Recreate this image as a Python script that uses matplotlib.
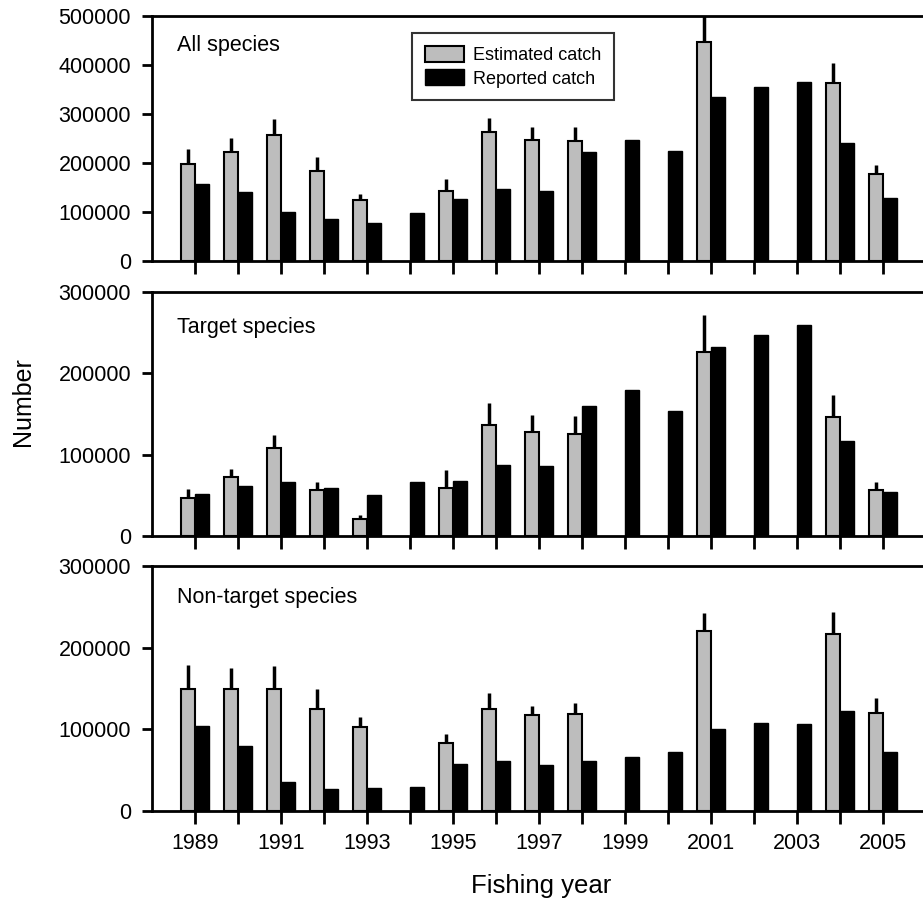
import numpy as np
import matplotlib
matplotlib.use("Agg")
import matplotlib.pyplot as plt

plt.rcParams['font.family'] = ['Liberation Sans', 'DejaVu Sans']

years = list(range(1989, 2006))
nan = np.nan

# All species
all_est = [198000, 223000, 258000, 184000, 125000, nan, 143000, 263000, 246000, 245000,
           nan, nan, 447000, nan, nan, 364000, 178000]
all_est_upper = [229000, 250000, 289000, 212000, 137000, nan, 168000, 292000, 273000, 273000,
                 nan, nan, 510000, nan, nan, 405000, 195000]
all_rep = [157000, 141000, 101000, 86000, 77000, 98000, 126000, 147000, 142000, 222000,
           247000, 225000, 335000, 356000, 365000, 241000, 128000]

# Target species
tgt_est = [47000, 73000, 108000, 57000, 21000, nan, 59000, 137000, 128000, 126000,
           nan, nan, 226000, nan, nan, 146000, 57000]
tgt_est_upper = [58000, 82000, 124000, 66000, 26000, nan, 81000, 163000, 149000, 147000,
                 nan, nan, 272000, nan, nan, 173000, 67000]
tgt_rep = [52000, 61000, 66000, 59000, 50000, 67000, 68000, 87000, 86000, 160000,
           180000, 154000, 232000, 247000, 259000, 117000, 54000]

# Non-target species
non_est = [150000, 150000, 149000, 125000, 103000, nan, 83000, 125000, 118000, 119000,
           nan, nan, 221000, nan, nan, 217000, 120000]
non_est_upper = [179000, 175000, 178000, 150000, 115000, nan, 94000, 145000, 128000, 132000,
                 nan, nan, 242000, nan, nan, 244000, 138000]
non_rep = [104000, 80000, 35000, 27000, 28000, 30000, 58000, 61000, 56000, 61000,
           66000, 72000, 100000, 108000, 106000, 123000, 72000]

panel_titles = ["All species", "Target species", "Non-target species"]
ymaxes = [500000, 300000, 300000]
yticks = [[0, 100000, 200000, 300000, 400000, 500000],
          [0, 100000, 200000, 300000],
          [0, 100000, 200000, 300000]]
series = [(all_est, all_est_upper, all_rep),
          (tgt_est, tgt_est_upper, tgt_rep),
          (non_est, non_est_upper, non_rep)]

W, H = 923, 905
fig = plt.figure(figsize=(W / 100, H / 100), dpi=100)

left = 152 / W
width = (926 - 152) / W
panels_px = [(16, 261), (292, 536), (566, 811)]
title_y = [45, 327, 597]

x = np.array(years, dtype=float)
bw = 0.32
gray = '#bdbdbd'

for i, ((top, bot), (est, est_up, rep)) in enumerate(zip(panels_px, series)):
    ax = fig.add_axes([left, 1 - bot / H, width, (bot - top) / H])
    est = np.array(est, dtype=float)
    est_up = np.array(est_up, dtype=float)
    rep = np.array(rep, dtype=float)
    b1 = ax.bar(x - bw / 2, est, width=bw, color=gray, edgecolor='black', linewidth=1.5,
                label='Estimated catch', zorder=2)
    b2 = ax.bar(x + bw / 2, rep, width=bw, color='black', edgecolor='black', linewidth=1.0,
                label='Reported catch', zorder=2)
    upper = est_up - est
    ax.errorbar(x - bw / 2, est, yerr=[np.zeros_like(upper), upper], fmt='none',
                ecolor='black', elinewidth=2.5, capsize=0, zorder=1)
    ax.set_xlim(1988, 2006)
    ax.set_ylim(0, ymaxes[i])
    ax.set_yticks(yticks[i])
    ax.set_yticklabels([str(t) for t in yticks[i]])
    ax.set_xticks(years)
    if i == 2:
        ax.set_xticklabels([str(y) if y % 2 == 1 else '' for y in years])
    else:
        ax.set_xticklabels([])
    for s in ['left', 'top', 'bottom', 'right']:
        ax.spines[s].set_linewidth(2.0)
    ax.spines['right'].set_visible(False)
    ax.tick_params(axis='y', direction='out', length=7, width=2, pad=8, labelsize=15.5)
    ax.tick_params(axis='x', direction='out', length=9, width=2, pad=7, labelsize=15.5)
    fig.text(177 / W, 1 - title_y[i] / H, panel_titles[i], fontsize=15.5,
             va='center', ha='left')
    if i == 0:
        leg = ax.legend(handles=[b1, b2], loc='upper left',
                        bbox_to_anchor=(412 / W, 1 - 33 / H), bbox_transform=fig.transFigure,
                        fontsize=13, frameon=True, fancybox=False, edgecolor='black',
                        handlelength=2.2, handleheight=1.0, borderpad=0.7,
                        labelspacing=0.3, handletextpad=0.5, borderaxespad=0)
        leg.get_frame().set_linewidth(1.5)

fig.text(23 / W, 1 - 402 / H, 'Number', rotation=90, fontsize=18, va='center', ha='center')
fig.text(541 / W, 1 - 886 / H, 'Fishing year', fontsize=18.5, va='center', ha='center')

fig.savefig('out.png', dpi=100)
